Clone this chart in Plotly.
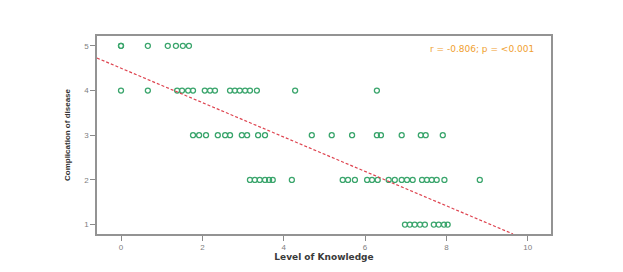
import plotly.graph_objects as go

# Data (Level of Knowledge vs Complication of disease)
knowledge_5 = [0.0, 0.0, 0.66, 1.15, 1.35, 1.52, 1.67]
knowledge_4 = [0.0, 0.66, 1.38, 1.50, 1.65, 1.77, 2.06, 2.19, 2.31, 2.68, 2.80, 2.92, 3.05, 3.17, 3.34, 4.28, 6.29]
knowledge_3 = [1.77, 1.92, 2.09, 2.38, 2.56, 2.68, 2.97, 3.10, 3.37, 3.54,
               4.69, 5.18, 5.68, 6.29, 6.39, 6.90, 7.37, 7.49, 7.91]
knowledge_2 = [3.17, 3.29, 3.41, 3.54, 3.64, 3.73, 4.20,
               5.45, 5.58, 5.75, 6.05, 6.17, 6.31, 6.58, 6.73, 6.90, 7.03,
               7.17, 7.40, 7.52, 7.64, 7.76, 7.95, 8.82]
knowledge_1 = [6.98, 7.10, 7.22, 7.35, 7.47, 7.69, 7.81, 7.94, 8.03]

complication_levels = [5, 4, 3, 2, 1]
knowledge_groups = [knowledge_5, knowledge_4, knowledge_3, knowledge_2, knowledge_1]

fit_intercept = 4.50
fit_slope = -0.385

x_range = [-0.59, 10.57]
y_range = [0.79, 5.22]
x_ticks = [0, 2, 4, 6, 8, 10]
y_ticks = [1, 2, 3, 4, 5]

annotation_text = "r = -0.806; p = <0.001"
x_title = "Level of Knowledge"
y_title = "Complication of disease"

xs, ys = [], []
for lvl, grp in zip(complication_levels, knowledge_groups):
    xs += grp
    ys += [lvl] * len(grp)

fig = go.Figure()
fig.add_trace(go.Scatter(
    x=xs, y=ys, mode="markers",
    marker=dict(symbol="circle-open", size=5, color="#3aa56c", line=dict(width=1.3, color="#3aa56c")),
    showlegend=False, hoverinfo="skip",
))

# regression line, from left edge until it leaves the bottom of the plot
x_end = (y_range[0] - fit_intercept) / fit_slope
line_x = [x_range[0], x_end]
line_y = [fit_intercept + fit_slope * v for v in line_x]
fig.add_trace(go.Scatter(
    x=line_x, y=line_y, mode="lines",
    line=dict(color="#de4450", width=1.2, dash="3px,2px"),
    showlegend=False, hoverinfo="skip",
))

fig.add_annotation(
    text=annotation_text, xref="paper", yref="paper", x=0.968, y=0.935,
    xanchor="right", yanchor="middle", showarrow=False,
    font=dict(family="DejaVu Sans", size=9, color="#f0a030"),
)

axis_common = dict(
    showgrid=False, zeroline=False, showline=True, linecolor="#939393", linewidth=1.6,
    mirror=True, ticks="outside", ticklen=5, tickcolor="#8a8a8a", tickwidth=1,
    tickfont=dict(family="Liberation Sans, Arial", size=8, color="#808080"),
    automargin=False,
)

fig.update_layout(
    width=623, height=272,
    margin=dict(l=97, r=72, t=36, b=38),
    paper_bgcolor="white", plot_bgcolor="white",
    xaxis=dict(range=x_range, tickvals=x_ticks, **axis_common,
               title=dict(text="<b>" + x_title + "</b>", standoff=2,
                          font=dict(family="DejaVu Sans", size=9, color="#3a3a3a"))),
    yaxis=dict(range=y_range, tickvals=y_ticks, **axis_common,
               title=dict(text="<b>" + y_title + "</b>", standoff=12,
                          font=dict(family="Liberation Sans Narrow, Liberation Sans, Arial", size=8, color="#333333"))),
)

fig.write_html("out.html")
